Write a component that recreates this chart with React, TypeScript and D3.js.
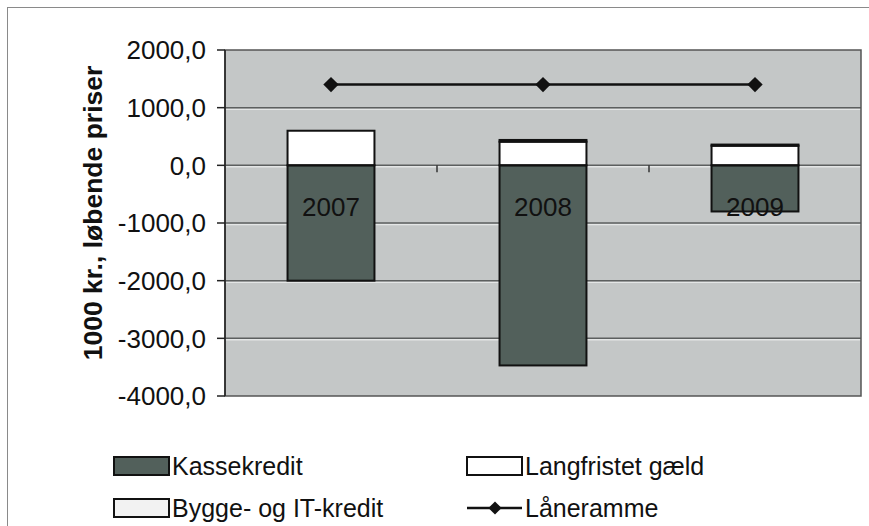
import React, { useEffect, useRef } from "react";
import * as d3 from "d3";

const years = ["2007", "2008", "2009"];
const kassekredit = [-2000, -3470, -800];
const langfristet = [600, 410, 340];
const bygge = [0, 30, 20];
const laaneramme = [1400, 1400, 1400];
const yTicks = [-4000, -3000, -2000, -1000, 0, 1000, 2000];

const App = () => {
  const ref = useRef<SVGSVGElement>(null);

  useEffect(() => {
    drawChart();
  }, []);

  const drawChart = () => {
    const svg = d3.select(ref.current);
    svg.selectAll("*").remove();

    const font = "'Liberation Sans', Arial, sans-serif";
    const left = 225, right = 861, top = 50, bottom = 396;

    // outer frame
    svg.append("rect")
      .attr("x", 7.5).attr("y", 7.5).attr("width", 900).attr("height", 530)
      .attr("fill", "#fff").attr("stroke", "#8a8a8a");

    const x = d3.scaleBand().domain(years).range([left, right])
      .paddingInner(0.59).paddingOuter(0.295);
    const y = d3.scaleLinear().domain([-4000, 2000]).range([bottom, top]);

    svg.append("rect")
      .attr("x", left).attr("y", top).attr("width", right - left).attr("height", bottom - top)
      .attr("fill", "#c4c7c7");

    // gridlines
    yTicks.filter(t => t > -4000 && t < 2000).forEach(t => {
      svg.append("line")
        .attr("x1", left).attr("x2", right).attr("y1", y(t) + 1.5).attr("y2", y(t) + 1.5)
        .attr("stroke", "#e4e6e6").attr("stroke-width", 1.5);
      svg.append("line")
        .attr("x1", left).attr("x2", right).attr("y1", y(t)).attr("y2", y(t))
        .attr("stroke", "#5c5f5f").attr("stroke-width", 1.5);
    });

    svg.append("rect")
      .attr("x", left).attr("y", top).attr("width", right - left).attr("height", bottom - top)
      .attr("fill", "none").attr("stroke", "#555").attr("stroke-width", 1.5);

    // category tick marks on zero line
    const step = x.step();
    [1, 2].forEach(i => {
      const cx = left + i * step;
      svg.append("line")
        .attr("x1", cx).attr("x2", cx).attr("y1", y(0)).attr("y2", y(0) + 7)
        .attr("stroke", "#333").attr("stroke-width", 1.5);
    });

    // bars
    const bw = x.bandwidth();
    years.forEach((yr, i) => {
      const bx = x(yr)!;
      svg.append("rect")
        .attr("x", bx).attr("y", y(0)).attr("width", bw).attr("height", y(kassekredit[i]) - y(0))
        .attr("fill", "#52605b");
      svg.append("rect")
        .attr("x", bx).attr("y", y(langfristet[i])).attr("width", bw).attr("height", y(0) - y(langfristet[i]))
        .attr("fill", "#fff").attr("stroke", "#111").attr("stroke-width", 2);
      if (bygge[i] > 0) {
        const top0 = langfristet[i], top1 = langfristet[i] + bygge[i];
        svg.append("rect")
          .attr("x", bx).attr("y", y(top1)).attr("width", bw).attr("height", y(top0) - y(top1))
          .attr("fill", "#f2f2f2").attr("stroke", "#111").attr("stroke-width", 2);
      }
    });

    // year labels
    svg.selectAll(".yr").data(years).enter().append("text")
      .attr("x", d => x(d)! + bw / 2)
      .attr("y", y(0) + 51)
      .attr("text-anchor", "middle")
      .attr("font-family", font).attr("font-size", 26).attr("fill", "#111")
      .text(d => d);

    // bar outlines over the labels
    years.forEach((yr, i) => {
      svg.append("rect")
        .attr("x", x(yr)!).attr("y", y(0)).attr("width", bw).attr("height", y(kassekredit[i]) - y(0))
        .attr("fill", "none").attr("stroke", "#111").attr("stroke-width", 2);
    });

    // Låneramme line
    const lx = (d: string) => x(d)! + bw / 2;
    const line = d3.line<number>().x((_, i) => lx(years[i])).y(d => y(d));
    svg.append("path").datum(laaneramme).attr("d", line)
      .attr("fill", "none").attr("stroke", "#111").attr("stroke-width", 2.5);
    svg.selectAll(".dm").data(laaneramme).enter().append("path")
      .attr("d", d3.symbol(d3.symbolDiamond2, 150)())
      .attr("transform", (d, i) => `translate(${lx(years[i])},${y(d)})`)
      .attr("fill", "#111");

    // y axis
    svg.append("line").attr("x1", left).attr("x2", left).attr("y1", top).attr("y2", bottom)
      .attr("stroke", "#222").attr("stroke-width", 1.5);
    yTicks.forEach(t => {
      svg.append("line").attr("x1", left - 8).attr("x2", left).attr("y1", y(t)).attr("y2", y(t))
        .attr("stroke", "#222").attr("stroke-width", 1.5);
      svg.append("text")
        .attr("x", 206).attr("y", y(t)).attr("dy", "0.36em")
        .attr("text-anchor", "end")
        .attr("font-family", font).attr("font-size", 26).attr("fill", "#111")
        .text(d3.format(".1f")(t).replace(".", ",").replace("−", "-"));
    });

    svg.append("text")
      .attr("transform", `translate(102,${(top + bottom) / 2 - 10}) rotate(-90)`)
      .attr("text-anchor", "middle")
      .attr("font-family", font).attr("font-size", 26.5).attr("font-weight", "bold").attr("fill", "#111")
      .text("1000 kr., løbende priser");

    // legend
    const legend = [
      { label: "Kassekredit", type: "bar", fill: "#52605b", x: 114, y: 466 },
      { label: "Langfristet gæld", type: "bar", fill: "#fff", x: 467, y: 466 },
      { label: "Bygge- og IT-kredit", type: "bar", fill: "#f2f2f2", x: 114, y: 508 },
      { label: "Låneramme", type: "line", fill: "#111", x: 467, y: 508 },
    ];
    legend.forEach(l => {
      if (l.type === "bar") {
        svg.append("rect").attr("x", l.x).attr("y", l.y - 9).attr("width", 55).attr("height", 18)
          .attr("fill", l.fill).attr("stroke", "#111").attr("stroke-width", 2);
      } else {
        svg.append("line").attr("x1", l.x).attr("x2", l.x + 55).attr("y1", l.y).attr("y2", l.y)
          .attr("stroke", "#111").attr("stroke-width", 2.5);
        svg.append("path").attr("d", d3.symbol(d3.symbolDiamond2, 110)())
          .attr("transform", `translate(${l.x + 28},${l.y})`).attr("fill", "#111");
      }
      svg.append("text").attr("x", l.x + 58).attr("y", l.y).attr("dy", "0.36em")
        .attr("font-family", font).attr("font-size", 25).attr("fill", "#111")
        .text(l.label);
    });
  };

  return (
    <svg ref={ref} width={869} height={526}
      style={{ position: "absolute", left: 0, top: 0, display: "block" }} />
  );
};

export default App;
